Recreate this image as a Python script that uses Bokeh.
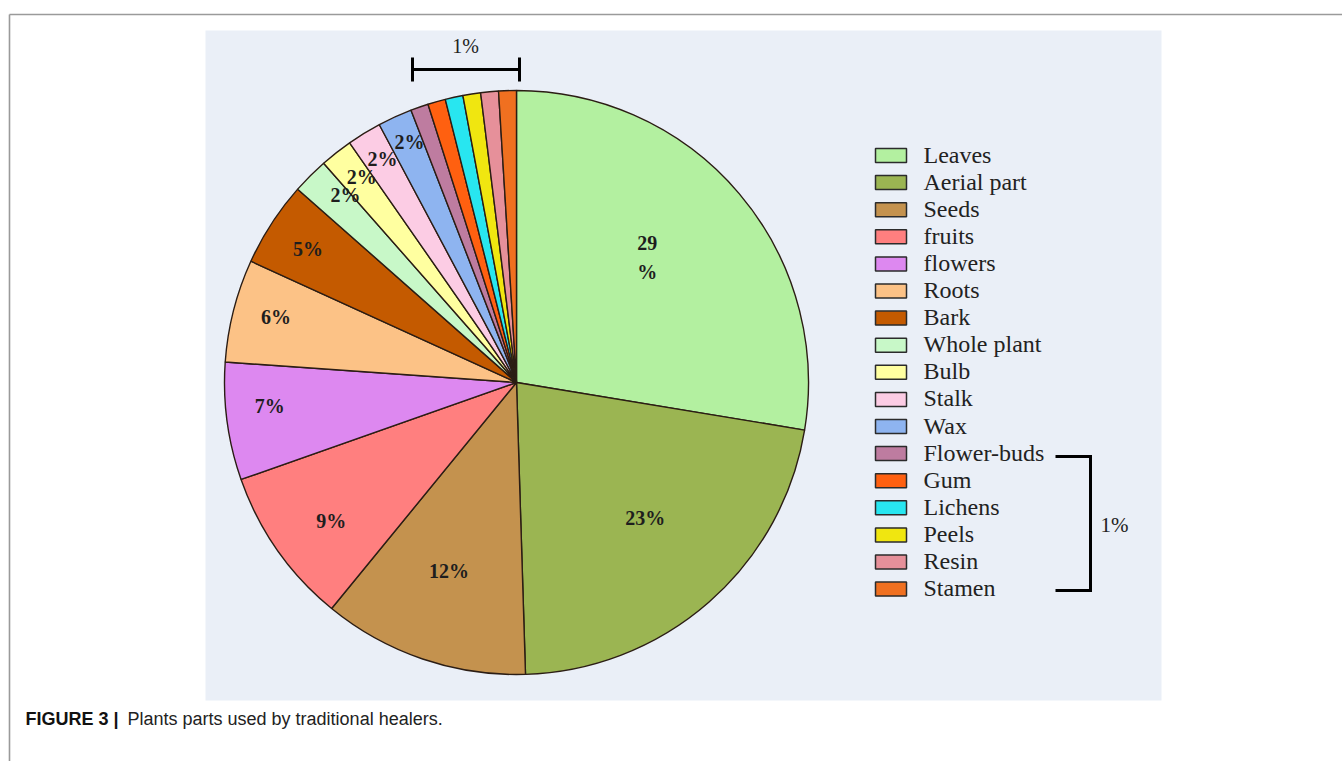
import numpy as np
from bokeh.plotting import figure
from bokeh.models import Range1d, ColumnDataSource
from bokeh.core.properties import value
from bokeh.embed import file_html
from bokeh.resources import INLINE

# ---------------- data ----------------
parts = ["Leaves", "Aerial part", "Seeds", "fruits", "flowers", "Roots", "Bark",
         "Whole plant", "Bulb", "Stalk", "Wax", "Flower-buds", "Gum", "Lichens",
         "Peels", "Resin", "Stamen"]
shares = [27.6, 21.9, 11.4, 8.7, 6.5, 5.7, 4.7, 2.0, 1.8, 1.9, 1.9,
          0.98, 0.98, 0.98, 0.98, 0.98, 0.98]
slice_labels = ["29\n%", "23%", "12%", "9%", "7%", "6%", "5%", "2%", "2%", "2%", "2%",
                "", "", "", "", "", ""]
colors = ["#B3F0A0", "#9BB552", "#C4924E", "#FF7F7F", "#DD88F0", "#FCC286", "#C45A00",
          "#C8F8C8", "#FFFFA0", "#FCCCE4", "#8EB4F0", "#BE7CA0", "#FF6010", "#28E6F0",
          "#F0E610", "#E6909A", "#F07020"]
group_label = "1%"
caption_bold = "FIGURE 3 |"
caption_text = "Plants parts used by traditional healers."

# ---------------- layout helpers (page pixels -> data) ----------------
W, H = 1342, 761
def X(px):
    return px
def Y(py):
    return H - py

# label placement (radius fraction, angular nudge in degrees)
label_rfrac = [0.61, 0.65, 0.70, 0.80, 0.85, 0.85, 0.84, 0.86, 0.87, 0.88, 0.89,
               0, 0, 0, 0, 0, 0]
label_dang = [-2.5, -1.5, 0.5, -2.5, 1.3, 0, -1.2, 2, 0.6, 0, 0.3,
              0, 0, 0, 0, 0, 0]

p = figure(width=W, height=H, x_range=Range1d(0, W), y_range=Range1d(0, H),
           output_backend="svg", toolbar_location=None, min_border=0,
           x_axis_location=None, y_axis_location=None)
p.grid.visible = False
p.outline_line_color = None
p.background_fill_color = "white"
p.border_fill_color = "white"

# outer figure frame lines
p.segment(x0=[X(9), X(9)], y0=[Y(14), Y(14)], x1=[X(1342), X(9)], y1=[Y(14), Y(770)],
          line_color="#9a9a9a", line_width=1.6)

# chart panel background
p.quad(left=X(205), right=X(1161), top=Y(30), bottom=Y(700),
       fill_color="#EAEFF7", line_color=None)

# ---------------- pie ----------------
cx, cy, R = X(516), Y(382), 292
vals = np.array(shares, dtype=float)
cum = np.concatenate([[0.0], np.cumsum(vals)])
tot = cum[-1]
a0 = 2 * np.pi * cum[:-1] / tot   # clockwise from 12 o'clock
a1 = 2 * np.pi * cum[1:] / tot
src = ColumnDataSource(dict(
    part=parts, share=shares, color=colors,
    start=np.pi / 2 - a1, end=np.pi / 2 - a0,
))
p.wedge(x=cx, y=cy, radius=R, start_angle="start", end_angle="end",
        direction="anticlock", fill_color="color", line_color="#2b1d14",
        line_width=1.4, source=src)

mid = (a0 + a1) / 2 + np.radians(label_dang)
rf = np.array(label_rfrac)
lsrc = ColumnDataSource(dict(
    x=cx + rf * R * np.sin(mid), y=cy + rf * R * np.cos(mid) + 4, text=slice_labels))
p.text(x="x", y="y", text="text", source=lsrc, text_align="center",
       text_baseline="middle", text_font=value("Liberation Serif"),
       text_font_style="bold", text_font_size="20px", text_color="#1e1e1e",
       text_line_height=1.3)

# top bracket for the 1% slices
p.segment(x0=[X(412), X(412), X(519)], y0=[Y(69), Y(57), Y(57)],
          x1=[X(519), X(412), X(519)], y1=[Y(69), Y(81), Y(81)],
          line_color="black", line_width=3)
p.text(x=[X(465)], y=[Y(45)], text=[group_label], text_align="center",
       text_baseline="middle", text_font=value("Liberation Serif"),
       text_font_size="20px", text_color="#222222")

# ---------------- legend (manual) ----------------
n = len(parts)
idx = np.arange(n)
leg_y = Y(155) - idx * 27.1
lgsrc = ColumnDataSource(dict(y=leg_y, ty=leg_y + 1, color=colors, part=parts))
p.rect(x=X(890.5), y="y", width=31, height=14, fill_color="color",
       line_color="#2b2b2b", line_width=1.5, source=lgsrc)
p.text(x=X(923), y="ty", text="part", source=lgsrc, text_align="left",
       text_baseline="alphabetic", text_font=value("Liberation Serif"),
       text_font_size="24px", text_color="#222222")

# right bracket
p.segment(x0=[X(1055), X(1090), X(1055)], y0=[Y(456), Y(456), Y(590)],
          x1=[X(1091.5), X(1090), X(1091.5)], y1=[Y(456), Y(590), Y(590)],
          line_color="black", line_width=3)
p.text(x=[X(1114)], y=[Y(524)], text=[group_label], text_align="center",
       text_baseline="middle", text_font=value("Liberation Serif"),
       text_font_size="21px", text_color="#222222")

# ---------------- caption ----------------
p.text(x=[X(25)], y=[Y(718)], text=[caption_bold], text_align="left",
       text_baseline="alphabetic", text_font=value("Liberation Sans"),
       text_font_style="bold", text_font_size="18px", text_color="#111111")
p.text(x=[X(127)], y=[Y(718)], text=[caption_text], text_align="left",
       text_baseline="alphabetic", text_font=value("Liberation Sans"),
       text_font_size="18px", text_color="#222222")

open("out.html", "w").write(file_html(p, INLINE))
